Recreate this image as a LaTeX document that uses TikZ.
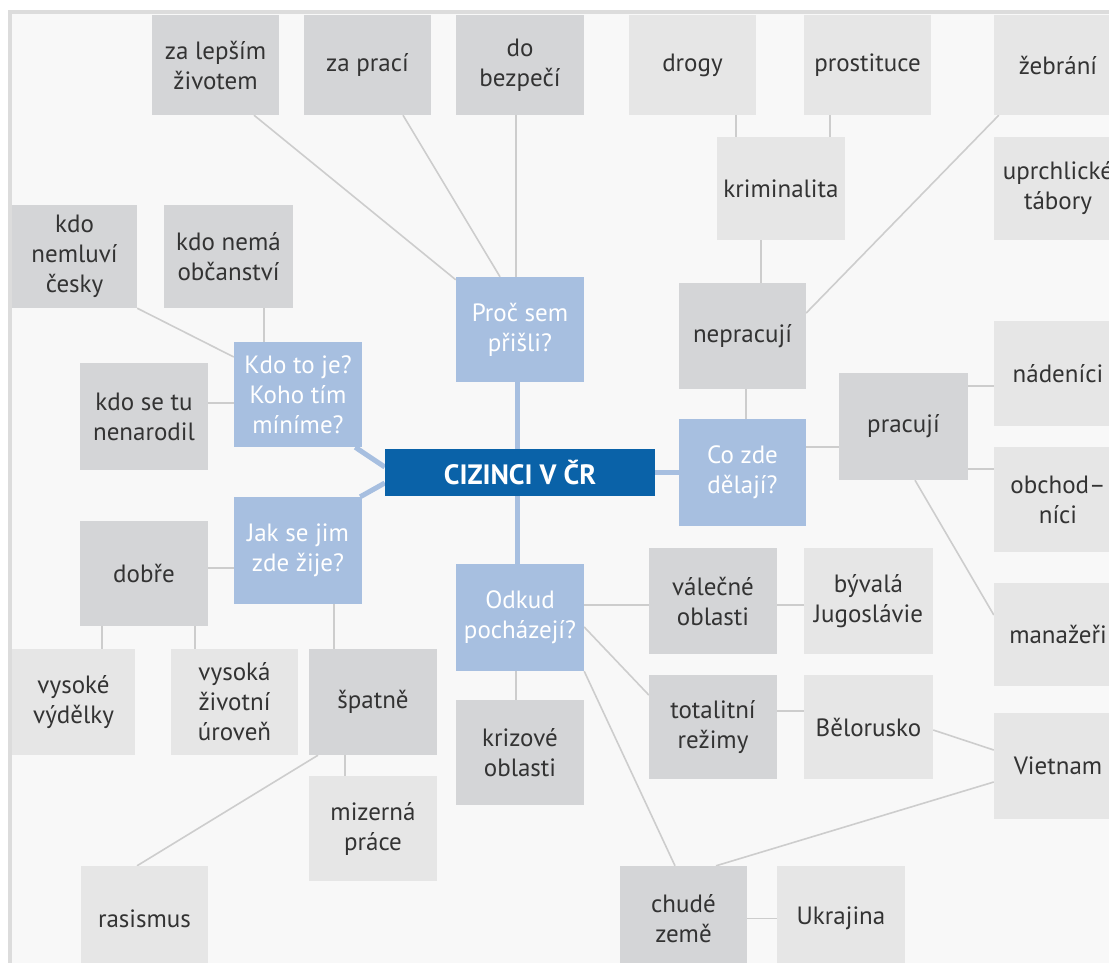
\documentclass[tikz,border=0pt]{standalone}
\usepackage{fontspec}
\setmainfont{PT Sans}
\usetikzlibrary{positioning}
\definecolor{darkbox}{HTML}{D4D5D7}
\definecolor{lightbox}{HTML}{E6E6E6}
\definecolor{bluebox}{HTML}{A7BFE0}
\definecolor{darkblue}{HTML}{0A62A8}
\definecolor{bgcol}{HTML}{F8F8F8}
\definecolor{framecol}{HTML}{DCDCDC}
\definecolor{linecol}{HTML}{CDCDCD}
\definecolor{txtcol}{HTML}{333333}
\pgfdeclarelayer{back}
\pgfdeclarelayer{lines}
\pgfsetlayers{back,lines,main}
\tikzset{
  box/.style={rectangle, inner sep=0pt, minimum width=128pt, minimum height=105pt,
    align=center, font=\fontsize{25}{30}\selectfont, text=txtcol},
  dbox/.style={box, fill=darkbox},
  lbox/.style={box, fill=lightbox},
  qbox/.style={box, fill=bluebox, text=white},
  cbox/.style={rectangle, inner sep=0pt, minimum width=270pt, minimum height=47pt,
    fill=darkblue, text=white, font=\fontsize{28}{32}\selectfont\bfseries},
  thin/.style={draw=linecol, line width=1.6pt},
  thick/.style={draw=bluebox, line width=5pt}
}
\begin{document}
\begin{tikzpicture}[x=1pt,y=-1pt]
\useasboundingbox (0,0) rectangle (1109,962);
\clip (0,0) rectangle (1109,962);
\begin{pgfonlayer}{back}
\fill[white] (0,0) rectangle (1109,962);
\fill[bgcol] (10,12) rectangle (1120,975);
\draw[framecol, line width=3.5pt] (10,980) -- (10,12) -- (1120,12);
\end{pgfonlayer}

% top row
\node[dbox, minimum width=127pt, minimum height=100pt] (lepsi) at (215.5,65) {za lepším\\životem};
\node[dbox, minimum width=127pt, minimum height=100pt] (praci) at (367.5,65) {za prací};
\node[dbox, minimum height=100pt] (bezpeci) at (520,65) {do\\bezpečí};
\node[lbox, minimum width=127pt, minimum height=100pt] (drogy) at (692.5,65) {drogy};
\node[lbox, minimum width=127pt, minimum height=100pt] (prostituce) at (867.5,65) {prostituce};
\node[lbox, minimum height=100pt] (zebrani) at (1058,65) {žebrání};

\node[lbox, minimum height=103pt] (kriminalita) at (781,188.5) {kriminalita};
\node[lbox, minimum height=103pt] (uprchlicke) at (1058,188.5) {uprchlické\\tábory};

\node[dbox, minimum width=125pt, minimum height=103pt] (nemluvi) at (74.5,256.5) {kdo\\nemluví\\česky};
\node[dbox, minimum width=129pt, minimum height=103pt] (nema) at (228.5,256.5) {kdo nemá\\občanství};

\node[qbox] (proc) at (520,329.5) {Proč sem\\přišli?};
\node[dbox, minimum width=127pt, minimum height=106pt] (nepracuji) at (742.5,336) {nepracují};
\node[lbox] (nadenici) at (1058,373.5) {nádeníci};
\node[qbox] (kdo) at (298,394.5) {Kdo to je?\\Koho tím\\míníme?};
\node[dbox, minimum height=107pt] (narodil) at (144,416.5) {kdo se tu\\nenarodil};
\node[dbox, minimum width=129pt, minimum height=107pt] (pracuji) at (903.5,426.5) {pracují};
\node[qbox, minimum width=127pt, minimum height=107pt] (cozde) at (742.5,472.5) {Co zde\\dělají?};
\node[lbox] (obchodnici) at (1058,499.5) {obchod–\\níci};
\node[cbox] (cizinci) at (520,472.5) {CIZINCI V ČR};

\node[qbox, minimum height=107pt] (jak) at (298,550.5) {Jak se jim\\zde žije?};
\node[dbox] (dobre) at (144,573.5) {dobře};
\node[dbox, minimum height=106pt] (valecne) at (713,601) {válečné\\oblasti};
\node[lbox, minimum width=129pt, minimum height=106pt] (byvala) at (868.5,601) {bývalá\\Jugoslávie};
\node[qbox, minimum height=107pt] (odkud) at (520,617.5) {Odkud\\pocházejí?};
\node[lbox, minimum height=103pt] (manazeri) at (1058,634.5) {manažeři};

\node[lbox, minimum width=123pt, minimum height=106pt] (vysoke) at (73.5,702) {vysoké\\výdělky};
\node[lbox, minimum width=127pt, minimum height=106pt] (vysoka) at (234.5,702) {vysoká\\životní\\úroveň};
\node[dbox, minimum height=106pt] (spatne) at (373,702) {špatně};
\node[dbox, minimum height=104pt] (totalitni) at (713,727) {totalitní\\režimy};
\node[lbox, minimum width=129pt, minimum height=104pt] (belorusko) at (868.5,727) {Bělorusko};
\node[dbox] (krizove) at (520,752.5) {krizové\\oblasti};
\node[lbox, minimum height=106pt] (vietnam) at (1058,766) {Vietnam};
\node[lbox] (mizerna) at (373,828.5) {mizerná\\práce};
\node[lbox, minimum width=127pt] (rasismus) at (144.5,918.5) {rasismus};
\node[dbox, minimum width=127pt] (chude) at (683.5,918.5) {chudé\\země};
\node[lbox] (ukrajina) at (841,918.5) {Ukrajina};

\begin{pgfonlayer}{lines}
% thick blue connectors
\draw[thick] ([xshift=-3pt]proc.south) -- ([xshift=-3pt]cizinci.north);
\draw[thick] ([xshift=-3pt]cizinci.south) -- ([xshift=-3pt]odkud.north);
\draw[thick] (cizinci.east) -- (cozde.west);
\draw[thick] ([xshift=-7pt]kdo.south east) -- ([yshift=5.5pt]cizinci.west);
\draw[thick] ([xshift=-2pt]jak.north east) -- ([yshift=-10.5pt]cizinci.west);
% thin connectors
\draw[thin] ([xshift=38.5pt]lepsi.south) -- ([yshift=-3pt]proc.north west);
\draw[thin] ([xshift=35.5pt]praci.south) -- ([xshift=-20pt]proc.north);
\draw[thin] ([xshift=-4pt]bezpeci.south) -- ([xshift=-4pt]proc.north);
\draw[thin] ([xshift=43.5pt]drogy.south) -- ([xshift=-45pt]kriminalita.north);
\draw[thin] ([xshift=-37.5pt]prostituce.south) -- ([xshift=49pt]kriminalita.north);
\draw[thin] ([xshift=-20pt]kriminalita.south) -- ([xshift=18.5pt]nepracuji.north);
\draw[thin] ([xshift=5pt]zebrani.south west) -- ([yshift=23pt]nepracuji.east);
\draw[thin] (nemluvi.south east) -- ([yshift=37.5pt]kdo.west);
\draw[thin] ([xshift=35.5pt]nema.south) -- ([xshift=-34pt]kdo.north);
\draw[thin] ([yshift=13.5pt]narodil.east) -- ([yshift=-8.5pt]kdo.west);
\draw[thin] ([xshift=3.5pt]nepracuji.south) -- ([xshift=3.5pt]cozde.north);
\draw[thin] ([yshift=25.5pt]cozde.east) -- ([yshift=-20.5pt]pracuji.west);
\draw[thin] ([yshift=40.5pt]pracuji.east) -- ([yshift=-12.5pt]nadenici.west);
\draw[thin] ([yshift=-42.5pt]pracuji.east) -- ([yshift=30.5pt]obchodnici.west);
\draw[thin] ([xshift=11.5pt]pracuji.south) -- ([yshift=19.5pt]manazeri.west);
\draw[thin] ([yshift=5.5pt]dobre.east) -- ([yshift=-17.5pt]jak.west);
\draw[thin] ([xshift=-42pt]dobre.south) -- ([xshift=28.5pt]vysoke.north);
\draw[thin] ([xshift=51pt]dobre.south) -- ([xshift=-39.5pt]vysoka.north);
\draw[thin] ([xshift=36pt]jak.south) -- ([xshift=-39pt]spatne.north);
\draw[thin] ([xshift=-28pt]spatne.south) -- ([xshift=-28pt]mizerna.north);
\draw[thin] ([xshift=-55pt]spatne.south) -- ([xshift=-7.5pt]rasismus.north);
\draw[thin] ([yshift=12.5pt]odkud.east) -- ([yshift=-4pt]valecne.west);
\draw[thin] ([yshift=-4pt]valecne.east) -- ([yshift=-4pt]byvala.west);
\draw[thin] ([yshift=-9.5pt]odkud.east) -- ([yshift=32pt]totalitni.west);
\draw[thin] (odkud.south east) -- ([xshift=-8.5pt]chude.north);
\draw[thin] ([xshift=-4pt]odkud.south) -- ([xshift=-4pt]krizove.north);
\draw[thin] ([yshift=16pt]totalitni.east) -- ([yshift=16pt]belorusko.west);
\draw[thin] ([yshift=-3pt]belorusko.east) -- ([yshift=16pt]vietnam.west);
\draw[thin] ([yshift=-16pt]vietnam.west) -- ([xshift=32.5pt]chude.north);
\draw[thin] (chude.east) -- (ukrajina.west);
\end{pgfonlayer}
\end{tikzpicture}
\end{document}
